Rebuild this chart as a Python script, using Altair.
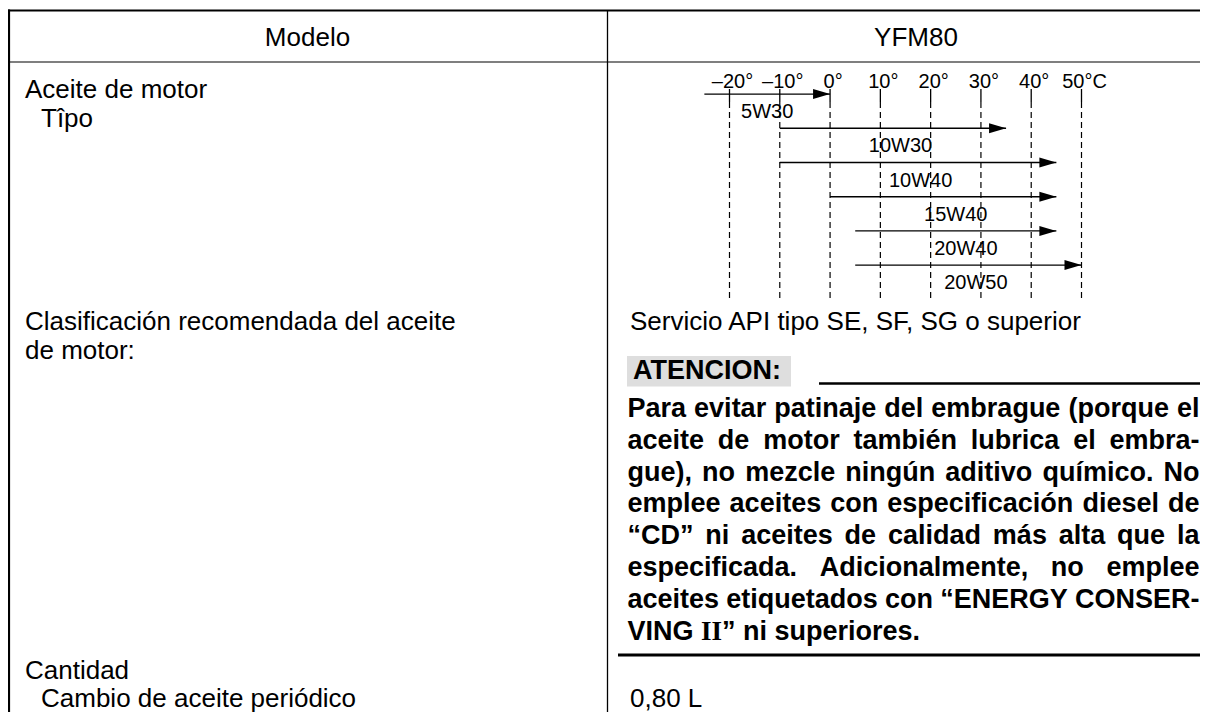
import altair as alt
import pandas as pd

# ------------------------------------------------------------------
# Content
# ------------------------------------------------------------------
header_left = "Modelo"
header_right = "YFM80"

temps = [-20, -10, 0, 10, 20, 30, 40, 50]
temp_labels = ["–20°", "–10°", "0°", "10°", "20°", "30°", "40°", "50°C"]

grades = ["5W30", "10W30", "10W40", "15W40", "20W40", "20W50"]
grade_from = [-25, -10, -10, 0, 5, 5]        # °C where each arrow starts
grade_to = [0, 35, 45, 45, 45, 50]           # °C where each arrow ends
grade_label_at = [-12.5, 14, 18, 25, 27, 29]  # °C under which the name sits

left_texts = [
    "Aceite de motor",
    "Tîpo",
    "Clasificación recomendada del aceite",
    "de motor:",
    "Servicio API tipo SE, SF, SG o superior",
    "Cantidad",
    "Cambio de aceite periódico",
    "0,80 L",
]

caution_title = "ATENCION:"
caution_lines = [
    "Para evitar patinaje del embrague (porque el",
    "aceite de motor también lubrica el embra-",
    "gue), no mezcle ningún aditivo químico. No",
    "emplee aceites con especificación diesel de",
    "“CD” ni aceites de calidad más alta que la",
    "especificada. Adicionalmente, no emplee",
    "aceites etiquetados con “ENERGY CONSER-",
]
caution_last = ["VING", "II", "” ni superiores."]

# ------------------------------------------------------------------
# Layout (page pixels of the reference, converted by scales below)
# ------------------------------------------------------------------
W, H = 1192, 704
OX, OY = 8, 8
FONT = "Liberation Sans"
REG = 26
BOLD = 27
SMALL = 20

left_x = [25, 41, 25, 25, 630, 25, 41, 630]
left_y = [90, 119, 322, 351, 322, 671, 698.5, 698.5]

par_left, par_right = 627.5, 1199.5
par_top, par_step = 409, 31.8

# Arial / Liberation Sans Bold advance widths (1/1000 em)
BW = {' ': 278, '(': 333, ')': 333, ',': 278, '-': 333, '.': 278, ':': 333,
      '“': 500, '”': 500,
      'A': 722, 'C': 722, 'D': 722, 'E': 667, 'G': 778, 'I': 278, 'N': 722,
      'O': 778, 'P': 667, 'R': 722, 'S': 667, 'V': 667, 'Y': 667,
      'a': 556, 'b': 611, 'c': 556, 'd': 611, 'e': 556, 'f': 333, 'g': 611,
      'h': 611, 'i': 278, 'j': 278, 'k': 556, 'l': 278, 'm': 889, 'n': 611,
      'o': 611, 'p': 611, 'q': 611, 'r': 389, 's': 556, 't': 333, 'u': 611,
      'v': 556, 'w': 778, 'x': 556, 'y': 556, 'z': 500,
      'á': 556, 'é': 556, 'í': 278, 'ó': 611, 'ú': 611, 'ñ': 611}


def bw(s, size=BOLD):
    return sum(BW.get(c, 556) for c in s) * size / 1000.0


# justified words of the caution paragraph
words = []
for i, line in enumerate(caution_lines):
    ws = line.split(" ")
    total = sum(bw(w) for w in ws)
    gap = max((par_right - par_left - total) / (len(ws) - 1), bw(" ") * 0.85)
    x = par_left
    for w in ws:
        words.append({"text": w, "x": x, "y": par_top + i * par_step})
        x += bw(w) + gap
last_y = par_top + len(caution_lines) * par_step
x0 = par_left
x_ii = x0 + bw(caution_last[0] + " ")
x_rest = x_ii + 0.778 * BOLD
words.append({"text": caution_last[0], "x": x0, "y": last_y})
words.append({"text": caution_last[2], "x": x_rest, "y": last_y})
words.append({"text": caution_title, "x": 633, "y": 371})
words_df = pd.DataFrame(words)
serif_df = pd.DataFrame([{"text": caution_last[1], "x": x_ii, "y": last_y}])

lines_df = pd.DataFrame([
    {"x": 7, "x2": 1210, "y": 10.5, "y2": 10.5, "w": 2.2},     # top border
    {"x": 9, "x2": 9, "y": 9.5, "y2": 730, "w": 2.2},           # left border
    {"x": 8, "x2": 1210, "y": 62, "y2": 62, "w": 1.2},          # header rule
    {"x": 607.5, "x2": 607.5, "y": 10, "y2": 730, "w": 1.3},    # column divider
    {"x": 819, "x2": 1200, "y": 383.5, "y2": 383.5, "w": 2.4},  # ATENCION rule
    {"x": 618, "x2": 1200, "y": 655, "y2": 655, "w": 3.0},      # end rule
])
box_df = pd.DataFrame([{"x": 627, "x2": 791, "y": 356, "y2": 386.5}])

center_df = pd.DataFrame([
    {"text": header_left, "x": 307.5, "y": 38},
    {"text": header_right, "x": 916, "y": 38},
])
left_df = pd.DataFrame({"text": left_texts, "x": left_x, "y": left_y})

temp_df = pd.DataFrame({"t": temps, "label": temp_labels})
grade_df = pd.DataFrame({"grade": grades, "t0": grade_from, "t1": grade_to,
                         "tl": grade_label_at})

# ------------------------------------------------------------------
# Scales
# ------------------------------------------------------------------
px = alt.Scale(domain=[OX, OX + W], range=[0, W], nice=False, zero=False)
py = alt.Scale(domain=[OY, OY + H], range=[0, H], nice=False, zero=False)
tx = alt.Scale(domain=[-20, 50], range=[729.5 - OX, 1081.5 - OX],
               nice=False, zero=False)
gy = alt.Scale(type="point", domain=grades, range=[94.1 - OY, 265.1 - OY],
               padding=0)

X = lambda f: alt.X(f"{f}:Q", scale=px, axis=None)
Y = lambda f: alt.Y(f"{f}:Q", scale=py, axis=None)

rules = alt.Chart(lines_df).mark_rule(color="black").encode(
    x=X("x"), x2="x2", y=Y("y"), y2="y2",
    strokeWidth=alt.StrokeWidth("w:Q", scale=None, legend=None))

box = alt.Chart(box_df).mark_rect(color="#dedede").encode(
    x=X("x"), x2="x2", y=Y("y"), y2="y2")

center_text = alt.Chart(center_df).mark_text(
    font=FONT, fontSize=REG, align="center", baseline="middle", color="black"
).encode(x=X("x"), y=Y("y"), text="text:N")

left_text = alt.Chart(left_df).mark_text(
    font=FONT, fontSize=REG, align="left", baseline="middle", color="black"
).encode(x=X("x"), y=Y("y"), text="text:N")

bold_text = alt.Chart(words_df).mark_text(
    font=FONT, fontSize=BOLD, fontWeight="bold", align="left",
    baseline="middle", color="black"
).encode(x=X("x"), y=Y("y"), text="text:N")

serif_text = alt.Chart(serif_df).mark_text(
    font="Liberation Serif", fontSize=BOLD, fontWeight="bold", align="left",
    baseline="middle", color="black"
).encode(x=X("x"), y=Y("y"), text="text:N")

# temperature diagram
ticks = alt.Chart(temp_df).mark_rule(color="black", strokeWidth=1.3).encode(
    x=alt.X("t:Q", scale=tx, axis=None),
    y=alt.value(89 - OY), y2=alt.value(102 - OY))
dashes = alt.Chart(temp_df).mark_rule(
    color="black", strokeWidth=1.2, strokeDash=[6, 4]
).encode(x=alt.X("t:Q", scale=tx, axis=None),
         y=alt.value(102 - OY), y2=alt.value(302 - OY))
temp_text = alt.Chart(temp_df).mark_text(
    font=FONT, fontSize=SMALL, align="center", baseline="middle", dx=3,
    color="black"
).encode(x=alt.X("t:Q", scale=tx, axis=None), y=alt.value(81.7 - OY),
         text="label:N")

arrow_lines = alt.Chart(grade_df).mark_rule(color="black", strokeWidth=1.4).encode(
    x=alt.X("t0:Q", scale=tx, axis=None), x2="t1:Q",
    y=alt.Y("grade:N", scale=gy, axis=None))
arrow_heads = alt.Chart(grade_df).mark_point(
    shape="M 0 0 L -2 -0.59 L -2 0.59 Z", size=289, filled=True,
    color="black", opacity=1, strokeWidth=0
).encode(x=alt.X("t1:Q", scale=tx, axis=None),
         y=alt.Y("grade:N", scale=gy, axis=None))
grade_text = alt.Chart(grade_df).mark_text(
    font=FONT, fontSize=SMALL, align="center", baseline="middle", dy=18,
    color="black"
).encode(x=alt.X("tl:Q", scale=tx, axis=None),
         y=alt.Y("grade:N", scale=gy, axis=None), text="grade:N")

chart = alt.layer(
    box, rules, dashes, ticks, arrow_lines, arrow_heads, grade_text, temp_text,
    center_text, left_text, bold_text, serif_text
).resolve_scale(x="independent", y="independent").properties(
    width=W, height=H, padding=0, background="white",
    autosize=alt.AutoSizeParams(type="none")
).configure_view(stroke=None)

chart.save("out.html", embed_options={"renderer": "svg", "actions": False})
